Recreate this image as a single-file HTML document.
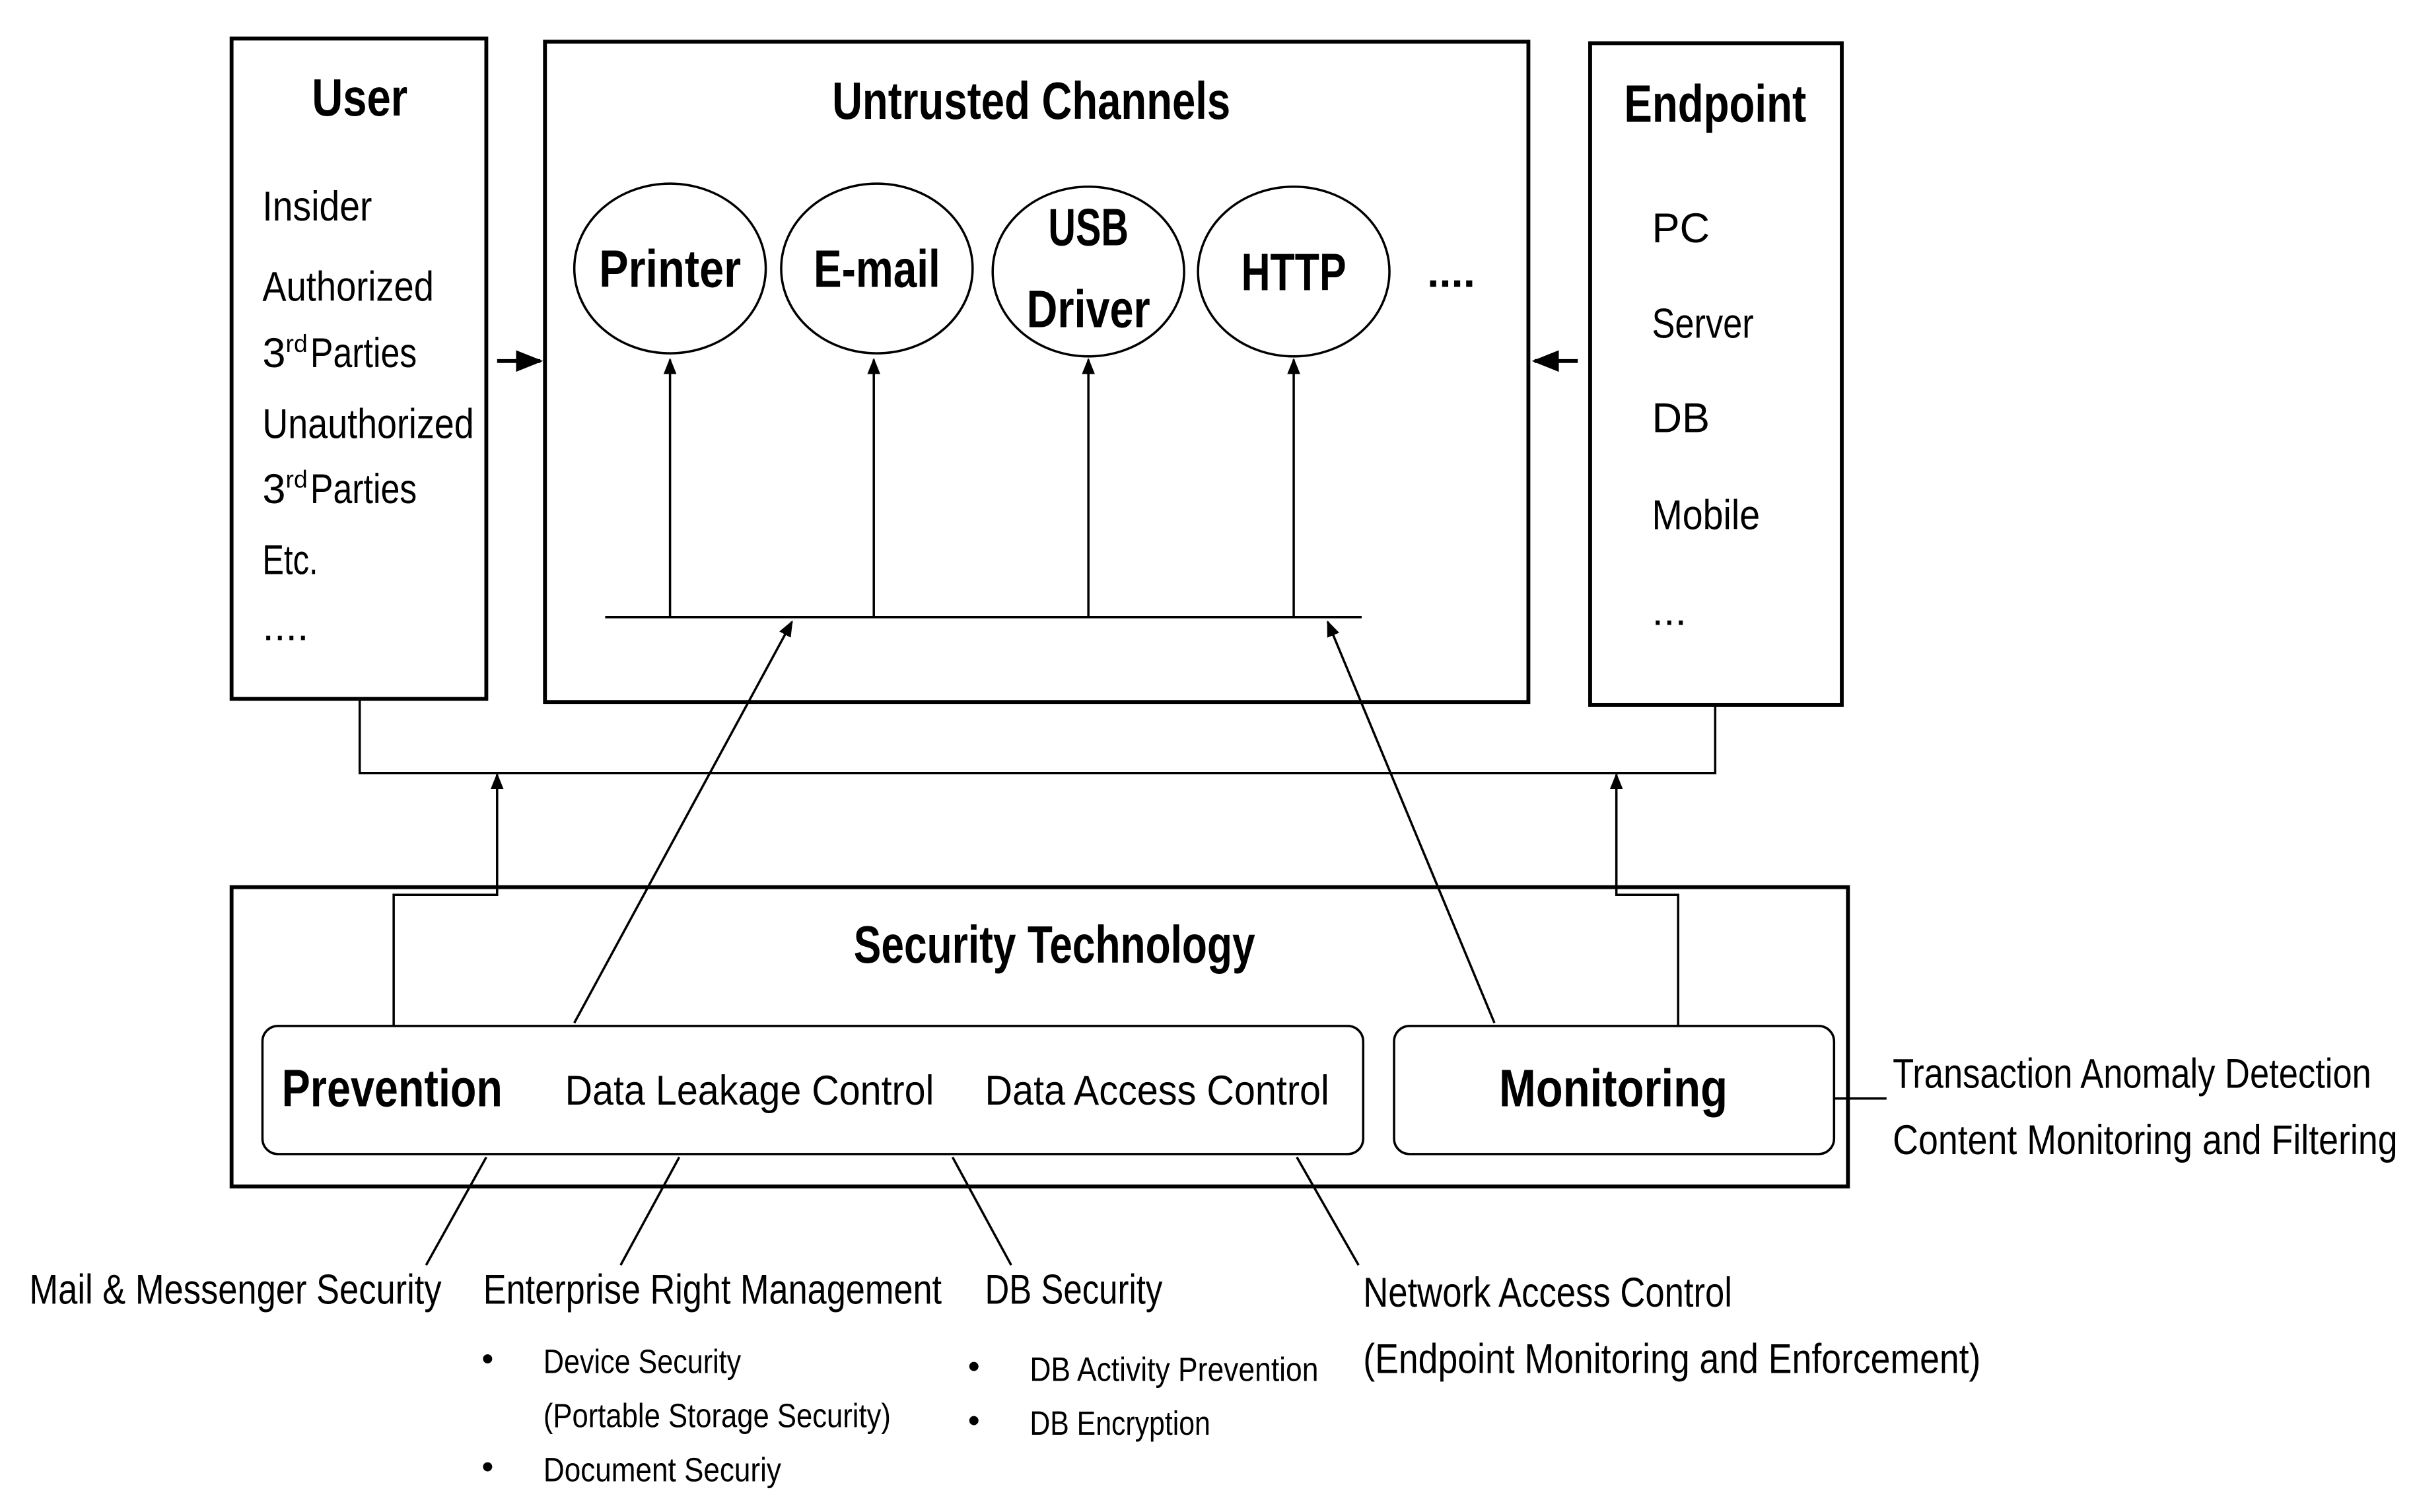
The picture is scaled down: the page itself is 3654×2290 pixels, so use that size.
<!DOCTYPE html>
<html><head><meta charset="utf-8"><style>html,body{margin:0;padding:0;background:#fff}svg{display:block}</style></head>
<body>
<svg width="3654" height="2290" viewBox="0 0 1563 980" preserveAspectRatio="none" xmlns="http://www.w3.org/2000/svg" font-family="Liberation Sans Narrow, Liberation Sans, sans-serif">
<defs><marker id="a" viewBox="0 0 10 10" refX="9" refY="5" markerWidth="7" markerHeight="7" orient="auto"><path d="M0,1 L10,5 L0,9 z" fill="#000"/></marker></defs>
<g fill="none" stroke="#000" stroke-width="2.5">
<rect x="150" y="25" width="165" height="428"/>
<rect x="353" y="27" width="637" height="428"/>
<rect x="1030" y="28" width="163" height="429"/>
<rect x="150" y="575" width="1047" height="194"/>
</g>
<g fill="none" stroke="#000" stroke-width="1.5">
<ellipse cx="434" cy="174" rx="62" ry="55"/>
<ellipse cx="568" cy="174" rx="62" ry="55"/>
<ellipse cx="705" cy="176" rx="62" ry="55"/>
<ellipse cx="838" cy="176" rx="62" ry="55"/>
<rect x="170" y="665" width="713" height="83" rx="10"/>
<rect x="903" y="665" width="285" height="83" rx="10"/>
<line x1="392" y1="400" x2="882" y2="400"/>
<line x1="434" y1="400" x2="434" y2="233" marker-end="url(#a)"/>
<line x1="566" y1="400" x2="566" y2="233" marker-end="url(#a)"/>
<line x1="705" y1="400" x2="705" y2="233" marker-end="url(#a)"/>
<line x1="838" y1="400" x2="838" y2="233" marker-end="url(#a)"/>
<polyline points="233,453 233,501 1111,501 1111,457"/>
<polyline points="255,665 255,580 322,580 322,502" marker-end="url(#a)"/>
<polyline points="1087,665 1087,580 1047,580 1047,502" marker-end="url(#a)"/>
<line x1="372" y1="663" x2="513" y2="403" marker-end="url(#a)"/>
<line x1="968" y1="663" x2="860" y2="403" marker-end="url(#a)"/>
<line x1="1188" y1="712" x2="1222" y2="712"/>
<line x1="315" y1="750" x2="276" y2="820"/>
<line x1="440" y1="750" x2="402" y2="820"/>
<line x1="617" y1="750" x2="655" y2="820"/>
<line x1="840" y1="750" x2="880" y2="820"/>
</g>
<g stroke="#000" stroke-width="2.5">
<line x1="322" y1="234" x2="350" y2="234" marker-end="url(#a)"/>
<line x1="1022" y1="234" x2="994" y2="234" marker-end="url(#a)"/>
</g>
<g fill="#000" font-weight="bold" font-size="34" text-anchor="middle">
<text x="233" y="75" textLength="62" lengthAdjust="spacingAndGlyphs">User</text>
<text x="668" y="77" textLength="258" lengthAdjust="spacingAndGlyphs">Untrusted Channels</text>
<text x="1111" y="79" textLength="118" lengthAdjust="spacingAndGlyphs">Endpoint</text>
<text x="434" y="186" textLength="92" lengthAdjust="spacingAndGlyphs">Printer</text>
<text x="568" y="186" textLength="82" lengthAdjust="spacingAndGlyphs">E-mail</text>
<text x="705" y="159" textLength="52" lengthAdjust="spacingAndGlyphs">USB</text>
<text x="705" y="212" textLength="80" lengthAdjust="spacingAndGlyphs">Driver</text>
<text x="838" y="188" textLength="68" lengthAdjust="spacingAndGlyphs">HTTP</text>
<text x="940" y="186" font-size="28">....</text>
<text x="683" y="624" textLength="260" lengthAdjust="spacingAndGlyphs">Security Technology</text>
<text x="254" y="717" textLength="143" lengthAdjust="spacingAndGlyphs">Prevention</text>
<text x="1045" y="717" textLength="148" lengthAdjust="spacingAndGlyphs">Monitoring</text>
</g>
<g fill="#000" font-size="27">
<text x="170" y="143" textLength="71" lengthAdjust="spacingAndGlyphs">Insider</text>
<text x="170" y="195" textLength="111" lengthAdjust="spacingAndGlyphs">Authorized</text>
<text x="170" y="238">3<tspan font-size="16" dy="-10">rd</tspan><tspan x="201" dy="10" textLength="69" lengthAdjust="spacingAndGlyphs">Parties</tspan></text>
<text x="170" y="284" textLength="137" lengthAdjust="spacingAndGlyphs">Unauthorized</text>
<text x="170" y="326">3<tspan font-size="16" dy="-10">rd</tspan><tspan x="201" dy="10" textLength="69" lengthAdjust="spacingAndGlyphs">Parties</tspan></text>
<text x="170" y="372" textLength="36" lengthAdjust="spacingAndGlyphs">Etc.</text>
<text x="170" y="415">....</text>
<text x="1070" y="157">PC</text>
<text x="1070" y="219" textLength="66" lengthAdjust="spacingAndGlyphs">Server</text>
<text x="1070" y="280">DB</text>
<text x="1070" y="343" textLength="70" lengthAdjust="spacingAndGlyphs">Mobile</text>
<text x="1070" y="405">...</text>
<text x="366" y="716" textLength="239" lengthAdjust="spacingAndGlyphs">Data Leakage Control</text>
<text x="638" y="716" textLength="223" lengthAdjust="spacingAndGlyphs">Data Access Control</text>
<text x="1226" y="705" textLength="310" lengthAdjust="spacingAndGlyphs">Transaction Anomaly Detection</text>
<text x="1226" y="748" textLength="327" lengthAdjust="spacingAndGlyphs">Content Monitoring and Filtering</text>
<text x="19" y="845" textLength="267" lengthAdjust="spacingAndGlyphs">Mail &amp; Messenger Security</text>
<text x="313" y="845" textLength="297" lengthAdjust="spacingAndGlyphs">Enterprise Right Management</text>
<text x="638" y="845" textLength="115" lengthAdjust="spacingAndGlyphs">DB Security</text>
<text x="883" y="847" textLength="239" lengthAdjust="spacingAndGlyphs">Network Access Control</text>
<text x="883" y="890" textLength="400" lengthAdjust="spacingAndGlyphs">(Endpoint Monitoring and Enforcement)</text>
</g>
<g fill="#000" font-size="22">
<text x="312" y="888">•</text><text x="352" y="890" textLength="128" lengthAdjust="spacingAndGlyphs">Device Security</text>
<text x="352" y="925" textLength="225" lengthAdjust="spacingAndGlyphs">(Portable Storage Security)</text>
<text x="312" y="958">•</text><text x="352" y="960" textLength="154" lengthAdjust="spacingAndGlyphs">Document Securiy</text>
<text x="627" y="893">•</text><text x="667" y="895" textLength="187" lengthAdjust="spacingAndGlyphs">DB Activity Prevention</text>
<text x="627" y="928">•</text><text x="667" y="930" textLength="117" lengthAdjust="spacingAndGlyphs">DB Encryption</text>
</g>
</svg>
</body></html>
